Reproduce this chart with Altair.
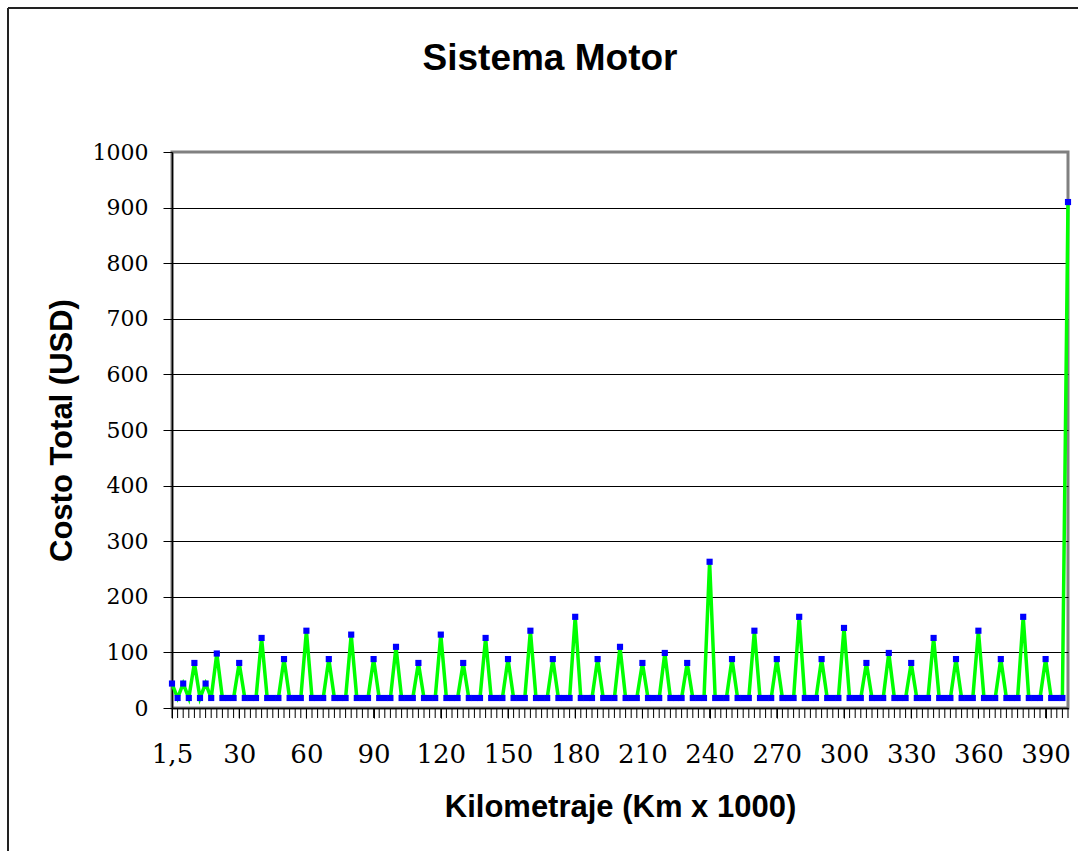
import altair as alt
import pandas as pd

# Category labels (Km x 1000)
km = [
    "1,5", "2,5", "5", "7,5", "10", "12,5", "15", "17,5", "20", "22,5", "25", "27,5",
    "30", "32,5", "35", "37,5", "40", "42,5", "45", "47,5", "50", "52,5", "55", "57,5",
    "60", "62,5", "65", "67,5", "70", "72,5", "75", "77,5", "80", "82,5", "85", "87,5",
    "90", "92,5", "95", "97,5", "100", "102,5", "105", "107,5", "110", "112,5", "115", "117,5",
    "120", "122,5", "125", "127,5", "130", "132,5", "135", "137,5", "140", "142,5", "145", "147,5",
    "150", "152,5", "155", "157,5", "160", "162,5", "165", "167,5", "170", "172,5", "175", "177,5",
    "180", "182,5", "185", "187,5", "190", "192,5", "195", "197,5", "200", "202,5", "205", "207,5",
    "210", "212,5", "215", "217,5", "220", "222,5", "225", "227,5", "230", "232,5", "235", "237,5",
    "240", "242,5", "245", "247,5", "250", "252,5", "255", "257,5", "260", "262,5", "265", "267,5",
    "270", "272,5", "275", "277,5", "280", "282,5", "285", "287,5", "290", "292,5", "295", "297,5",
    "300", "302,5", "305", "307,5", "310", "312,5", "315", "317,5", "320", "322,5", "325", "327,5",
    "330", "332,5", "335", "337,5", "340", "342,5", "345", "347,5", "350", "352,5", "355", "357,5",
    "360", "362,5", "365", "367,5", "370", "372,5", "375", "377,5", "380", "382,5", "385", "387,5",
    "390", "392,5", "395", "397,5", "400",
]

# Costo Total (USD)
costo = [
    44, 18, 44, 18, 81, 18, 44, 18, 98, 18, 18, 18,
    81, 18, 18, 18, 126, 18, 18, 18, 88, 18, 18, 18,
    139, 18, 18, 18, 88, 18, 18, 18, 132, 18, 18, 18,
    88, 18, 18, 18, 110, 18, 18, 18, 81, 18, 18, 18,
    132, 18, 18, 18, 81, 18, 18, 18, 126, 18, 18, 18,
    88, 18, 18, 18, 139, 18, 18, 18, 88, 18, 18, 18,
    164, 18, 18, 18, 88, 18, 18, 18, 110, 18, 18, 18,
    81, 18, 18, 18, 99, 18, 18, 18, 81, 18, 18, 18,
    263, 18, 18, 18, 88, 18, 18, 18, 139, 18, 18, 18,
    88, 18, 18, 18, 164, 18, 18, 18, 88, 18, 18, 18,
    144, 18, 18, 18, 81, 18, 18, 18, 99, 18, 18, 18,
    81, 18, 18, 18, 126, 18, 18, 18, 88, 18, 18, 18,
    139, 18, 18, 18, 88, 18, 18, 18, 164, 18, 18, 18,
    88, 18, 18, 18, 910,
]

x_labels = ["1,5", "30", "60", "90", "120", "150", "180", "210", "240",
            "270", "300", "330", "360", "390"]
y_ticks = [0, 100, 200, 300, 400, 500, 600, 700, 800, 900, 1000]

df = pd.DataFrame({"km": km, "costo": costo})
one = pd.DataFrame({"a": [0]})

W, H = 896, 556

x_enc = alt.X(
    "km:N",
    sort=km,
    scale=alt.Scale(type="point", padding=0),
    axis=alt.Axis(
        values=x_labels,
        title="Kilometraje (Km x 1000)",
        labelAngle=0,
        labelAlign="center",
        labelFont="DejaVu Serif",
        labelFontSize=26,
        labelColor="black",
        labelPadding=36,
        tickSize=10,
        tickColor="black",
        domainColor="black",
        domainWidth=1.5,
        titleFont="Liberation Sans",
        titleFontSize=31,
        titleFontWeight="bold",
        titleColor="black",
        titlePadding=25,
        grid=False,
        labelOverlap=False,
    ),
)

y_enc = alt.Y(
    "costo:Q",
    scale=alt.Scale(domain=[0, 1000], nice=False),
    axis=alt.Axis(
        values=y_ticks,
        format="d",
        title="Costo Total (USD)",
        labelFont="DejaVu Serif",
        labelFontSize=22,
        labelColor="black",
        labelPadding=15,
        tickSize=9,
        tickColor="black",
        domainColor="black",
        domainWidth=1.5,
        grid=True,
        gridColor={"condition": {"test": "datum.value >= 1000", "value": "#808080"},
                   "value": "black"},
        gridWidth=1,
        titleFont="Liberation Sans",
        titleFontSize=31,
        titleFontWeight="bold",
        titleColor="black",
        titlePadding=14,
    ),
)

ticks = alt.Chart(df).mark_rule(color="black", strokeWidth=1).encode(
    x=alt.X("km:N", sort=km, scale=alt.Scale(type="point", padding=0)),
    y=alt.value(H),
    y2=alt.value(H + 10),
)

line = alt.Chart(df).mark_line(color="#00FF00", strokeWidth=3.5).encode(
    x=x_enc, y=y_enc
)

pts = alt.Chart(df).mark_point(
    shape="square", filled=True, color="#0000FF", size=38, opacity=1
).encode(x=alt.X("km:N", sort=km), y="costo:Q")

frame_left = alt.Chart(one).mark_rule(color="#222222", strokeWidth=2).encode(
    x=alt.value(-164), y=alt.value(-144), y2=alt.value(H + 200)
)
frame_top = alt.Chart(one).mark_rule(color="#222222", strokeWidth=2).encode(
    x=alt.value(-164), x2=alt.value(W + 20), y=alt.value(-144)
)

title = alt.Chart(one).mark_text(
    text="Sistema Motor",
    font="Liberation Sans",
    fontSize=37,
    fontWeight="bold",
    color="black",
    baseline="alphabetic",
    align="center",
).encode(x=alt.value(378), y=alt.value(-82))

chart = alt.layer(frame_left, frame_top, title, ticks, line, pts).properties(
    width=W,
    height=H,
    autosize=alt.AutoSizeParams(type="none"),
    padding={"left": 172, "top": 152, "right": 10, "bottom": 143},
    background="white",
).configure_view(stroke="#808080", strokeWidth=3)

chart.save("out.html", embed_options={"renderer": "svg", "actions": False})
